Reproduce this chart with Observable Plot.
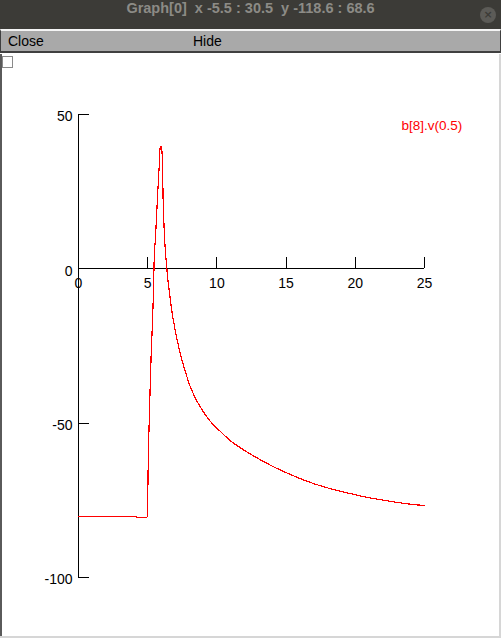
<!DOCTYPE html>
<html>
<head>
<meta charset="utf-8">
<script src="https://cdn.jsdelivr.net/npm/d3@7"></script>
<script src="https://cdn.jsdelivr.net/npm/@observablehq/plot@0.6"></script>
<style>
  html, body { margin: 0; padding: 0; background: #ffffff; width: 501px; height: 638px; overflow: hidden; }
  #titlebar { position: absolute; left: 0; top: 0; width: 501px; height: 29px; background: #3c3b37; }
  #title { position: absolute; left: 0; top: 0; width: 501px; height: 29px; line-height: 30px; text-align: center;
           font: bold 14.5px "Liberation Sans", Arial, sans-serif; color: #8c8b86; white-space: pre; }
  #closebtn { position: absolute; left: 480px; top: 7px; width: 16px; height: 16px; border-radius: 50%; background: #5c5b57;
              color: #3c3b37; font: bold 11px "DejaVu Sans", sans-serif; line-height: 16px; text-align: center; }
  #menu { position: absolute; left: 0; top: 29px; width: 499px; height: 20px; background: #a9a9a9;
          border-top: 2px solid #f4f4f4; border-bottom: 2px solid #404040; border-left: 1px solid #404040; border-right: 1px solid #404040; }
  #menu span { position: absolute; top: 2px; font: 14px "Liberation Sans", Arial, sans-serif; color: #000; }
  #chart { position: absolute; left: 0; top: 54px; }
  #leftedge { position: absolute; left: 0; top: 54px; width: 2px; height: 584px; background: #5a5a5a; }
  #rightedge { position: absolute; left: 499px; top: 54px; width: 2px; height: 584px; background: #d6d6d6; }
  #bottomedge { position: absolute; left: 0; top: 636px; width: 501px; height: 2px; background: #d6d6d6; }
  #checkbox { position: absolute; left: 2px; top: 56px; width: 9px; height: 10px; border: 1px solid #8a8a8a; background: #fff; }
</style>
</head>
<body>
<div id="titlebar"><div id="title">Graph[0]  x -5.5 : 30.5  y -118.6 : 68.6</div><div id="closebtn">×</div></div>
<div id="menu"><span style="left:7px">Close</span><span style="left:192px">Hide</span></div>
<div id="chart"></div>
<div id="leftedge"></div>
<div id="rightedge"></div>
<div id="bottomedge"></div>
<div id="checkbox"></div>
<script>
// ---- data ----
const xTicks = [0, 5, 10, 15, 20, 25];
const yTicks = [-100, -50, 0, 50];
const legendLabel = "b[8].v(0.5)";
const time = [0, 4.15, 4.17, 4.96, 4.99, 5.04, 5.11, 5.18, 5.25, 5.33, 5.40, 5.47, 5.57, 5.64, 5.72, 5.79, 5.86, 5.90, 5.98,
  6.05, 6.12, 6.19, 6.27, 6.37, 6.44, 6.53, 6.61, 6.68, 6.97, 7.33, 7.7, 8.06, 8.55, 9.05, 9.5, 10.0, 10.46, 11.0, 11.67, 12.88,
  14.08, 15.29, 16.5, 17.7, 18.9, 20.1, 21.3, 22.5, 23.7, 25];
const voltage = [-80.2, -80.2, -80.5, -80.5, -77.6, -62.0, -49.3, -38.0, -27.8, -18.8, -9.9, 3.3, 10.6, 17.3, 24.1, 30.3, 35.4, 39.7, 39.7,
  36.5, 21.5, 12.7, 6.2, 0.8, -2.8, -6.1, -8.9, -11.6, -19.5, -27.0, -33.0, -38.0, -42.8, -46.5, -49.3, -51.6, -53.6, -55.8, -57.9, -61.2,
  -64.1, -66.6, -68.8, -70.6, -72.0, -73.3, -74.4, -75.3, -76.1, -76.7];

const series = time.map((t, i) => ({t, v: voltage[i]}));
const tickFont = "'Liberation Sans', Arial, sans-serif";

const chart = Plot.plot({
  width: 501,
  height: 584,
  margin: 0,
  style: {background: "#ffffff", fontFamily: tickFont},
  x: {domain: [0, 25], range: [78, 424], axis: null},
  y: {domain: [-100, 50], range: [523, 60], axis: null},
  marks: [
    Plot.ruleY([0], {x1: 0, x2: 25, stroke: "#000", strokeWidth: 1, shapeRendering: "crispEdges"}),
    Plot.ruleX([0], {y1: -100, y2: 50, stroke: "#000", strokeWidth: 1, shapeRendering: "crispEdges"}),
    Plot.ruleX(xTicks, {x: d => d, y1: 0, y2: 3.56, stroke: "#000", strokeWidth: 1, shapeRendering: "crispEdges"}),
    Plot.ruleY(yTicks, {y: d => d, x1: 0, x2: 0.8, stroke: "#000", strokeWidth: 1, shapeRendering: "crispEdges"}),
    Plot.text(xTicks, {x: d => d, y: 0, text: d => String(d), dy: 15, textAnchor: "middle", lineAnchor: "middle",
      fontSize: 14, fill: "#000", fontFamily: tickFont}),
    Plot.text(yTicks, {x: 0, y: d => d, text: d => String(d), dx: -6, dy: 2.5, textAnchor: "end", lineAnchor: "middle",
      fontSize: 14, fill: "#000", fontFamily: tickFont}),
    Plot.line(series, {x: "t", y: "v", curve: "monotone-x", stroke: "#ff0000", strokeWidth: 1.2, shapeRendering: "crispEdges"}),
    Plot.text([legendLabel], {frameAnchor: "top-left", dx: 401, dy: 71, text: d => d, textAnchor: "start", lineAnchor: "middle",
      fontSize: 13.5, fill: "#ff0000", fontFamily: tickFont})
  ]
});
document.getElementById("chart").appendChild(chart);
</script>
</body>
</html>
